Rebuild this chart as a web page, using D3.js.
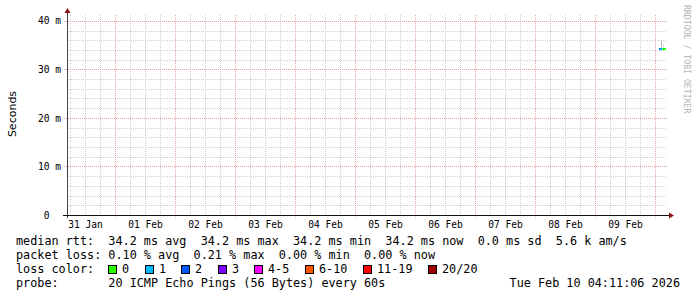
<!DOCTYPE html>
<html>
<head>
<meta charset="utf-8">
<script src="https://cdn.jsdelivr.net/npm/d3@7"></script>
<style>
  html, body { margin: 0; padding: 0; background: #fff; }
  svg text { white-space: pre; }
</style>
</head>
<body>
<div class="chart"></div>
<script>
// ---- data ----
const dayLabels = ["31 Jan", "01 Feb", "02 Feb", "03 Feb", "04 Feb", "05 Feb", "06 Feb", "07 Feb", "08 Feb", "09 Feb"];
const dayDates  = ["2026-01-31", "2026-02-01", "2026-02-02", "2026-02-03", "2026-02-04", "2026-02-05", "2026-02-06", "2026-02-07", "2026-02-08", "2026-02-09"];
const yTickValues = [0, 10, 20, 30, 40];
const yTickLabels = ["0  ", "10 m", "20 m", "30 m", "40 m"];

// samples (ms) at the right edge
const sampleTimes = ["2026-02-10T01:36:00Z", "2026-02-10T02:00:00Z", "2026-02-10T02:24:00Z", "2026-02-10T02:48:00Z",
                     "2026-02-10T03:12:00Z", "2026-02-10T03:36:00Z", "2026-02-10T04:00:00Z", "2026-02-10T04:24:00Z"];
const medianRtt = [34.2, 34.2, 34.2, 34.2, 34.2, 34.2, 34.2];
const smokeMin  = [34.2, 34.2, 34.0, 34.2, 34.1, 34.2, 34.2];
const smokeMax  = [34.2, 34.2, 36.0, 34.2, 35.2, 34.2, 34.2];
const lossCount = [2, 1, 1, 0, 0, 0, 0];

const lossLabels = ["0", "1", "2", "3", "4-5", "6-10", "11-19", "20/20"];
const lossColors = ["#26ff00", "#00b8ff", "#0059ff", "#7e00ff", "#ff00ff", "#ff5500", "#ff0000", "#a10000"];

const legendRows = [
  "median rtt:  34.2 ms avg  34.2 ms max  34.2 ms min  34.2 ms now  0.0 ms sd  5.6 k am/s",
  "packet loss: 0.10 % avg  0.21 % max  0.00 % min  0.00 % now",
  "loss color:",
  "probe:       20 ICMP Echo Pings (56 Bytes) every 60s"
];
const stampText = "Tue Feb 10 04:11:06 2026";
const yTitle = "Seconds";
const watermark = "RRDTOOL / TOBI OETIKER";

// ---- layout ----
const W = 697, H = 297;
const margin = { left: 67, right: 30, top: 15, bottom: 82 };
const mono = "'DejaVu Sans Mono', monospace";

const svg = d3.select(".chart").append("svg")
  .attr("width", W).attr("height", H)
  .style("display", "block");

const xScale = d3.scaleUtc()
  .domain([new Date("2026-01-31T04:48:00Z"), new Date("2026-02-10T04:48:00Z")])
  .range([margin.left, W - margin.right]);
const yScale = d3.scaleLinear()
  .domain([0, 41.2])
  .range([H - margin.bottom, margin.top]);

const px = v => Math.round(v) + 0.5;
const [xa, xb] = xScale.range();
const [yb, yt] = yScale.range();

// grid
const grid = svg.append("g").attr("shape-rendering", "crispEdges");
const majorDays = d3.utcDay.range(xScale.domain()[0], xScale.domain()[1]);
const minorHours = d3.utcHour.every(6).range(xScale.domain()[0], xScale.domain()[1])
  .filter(d => d.getUTCHours() !== 0);

grid.selectAll(".vmin").data(minorHours).enter().append("line")
  .attr("x1", d => px(xScale(d))).attr("x2", d => px(xScale(d)))
  .attr("y1", yt).attr("y2", yb)
  .attr("stroke", "#cfcfcf").attr("stroke-dasharray", "1,1");

const yMinor = d3.range(2, 41.2, 2).filter(v => v % 10 !== 0);
grid.selectAll(".hmin").data(yMinor).enter().append("line")
  .attr("x1", xa).attr("x2", xb)
  .attr("y1", d => px(yScale(d))).attr("y2", d => px(yScale(d)))
  .attr("stroke", "#cfcfcf").attr("stroke-dasharray", "1,1");

grid.selectAll(".vmaj").data(majorDays).enter().append("line")
  .attr("x1", d => px(xScale(d))).attr("x2", d => px(xScale(d)))
  .attr("y1", yt).attr("y2", yb + 3)
  .attr("stroke", "#e0a4a4").attr("stroke-dasharray", "1,1");

grid.selectAll(".hmaj").data(yTickValues.filter(v => v > 0)).enter().append("line")
  .attr("x1", xa - 3).attr("x2", xb)
  .attr("y1", d => px(yScale(d))).attr("y2", d => px(yScale(d)))
  .attr("stroke", "#e0a4a4").attr("stroke-dasharray", "1,1");

// smoke
const seg = sampleTimes.slice(0, -1).map((t, i) => ({
  t0: new Date(t), t1: new Date(sampleTimes[i + 1]),
  med: medianRtt[i], lo: smokeMin[i], hi: smokeMax[i], loss: lossCount[i]
}));
const lossColor = n => n >= 20 ? lossColors[7] : n >= 11 ? lossColors[6] : n >= 6 ? lossColors[5]
  : n >= 4 ? lossColors[4] : lossColors[n];

svg.append("g").attr("shape-rendering", "crispEdges")
  .selectAll("rect").data(seg.filter(d => d.hi > d.lo)).enter().append("rect")
  .attr("x", d => xScale(d.t0))
  .attr("width", d => xScale(d.t1) - xScale(d.t0))
  .attr("y", d => yScale(d.hi))
  .attr("height", d => yScale(d.lo) - yScale(d.hi))
  .attr("fill", d => d.hi - d.lo > 1.5 ? "#b8b8b8" : "#dcdcdc");

// median line coloured by loss
svg.append("g").attr("shape-rendering", "crispEdges")
  .selectAll("rect").data(seg).enter().append("rect")
  .attr("x", d => xScale(d.t0))
  .attr("width", d => xScale(d.t1) - xScale(d.t0))
  .attr("y", d => Math.round(yScale(d.med)) - 1)
  .attr("height", 2)
  .attr("fill", d => lossColor(d.loss));

// axes lines + arrows
const axisG = svg.append("g");
axisG.append("line")
  .attr("x1", px(xa)).attr("x2", px(xa)).attr("y1", yb + 3).attr("y2", yt - 3)
  .attr("stroke", "#404040").attr("shape-rendering", "crispEdges");
axisG.append("line")
  .attr("x1", xa - 4).attr("x2", xb + 3).attr("y1", px(yb)).attr("y2", px(yb))
  .attr("stroke", "#101010").attr("shape-rendering", "crispEdges");
axisG.append("path")
  .attr("d", `M${px(xa) - 3},${yt - 2} L${px(xa) + 3},${yt - 2} L${px(xa)},${yt - 7} Z`)
  .attr("fill", "#8b1414");
axisG.append("path")
  .attr("d", `M${xb + 2},${px(yb) - 3} L${xb + 2},${px(yb) + 3} L${xb + 7},${px(yb)} Z`)
  .attr("fill", "#8b1414");

// y tick labels via axis
const yAxis = d3.axisLeft(yScale)
  .tickValues(yTickValues)
  .tickSize(0)
  .tickPadding(0)
  .tickFormat((d, i) => yTickLabels[i]);
const yg = svg.append("g").attr("transform", `translate(${xa - 6},0)`).call(yAxis);
yg.select(".domain").remove();
yg.selectAll("text")
  .attr("font-family", mono).attr("font-size", "9.6px").attr("fill", "#000")
  .attr("dy", "0.33em");

// x tick labels at noon of each day
const noon = dayDates.map(d => d3.utcHour.offset(new Date(d + "T00:00:00Z"), 12));
const xAxis = d3.axisBottom(xScale)
  .tickValues(noon)
  .tickSize(0)
  .tickPadding(0)
  .tickFormat((d, i) => dayLabels[i]);
const xg = svg.append("g").attr("transform", `translate(0,${yb + 4})`).call(xAxis);
xg.select(".domain").remove();
xg.selectAll("text")
  .attr("font-family", mono).attr("font-size", "9.6px").attr("fill", "#000")
  .attr("dy", "0.95em");

// axis title
svg.append("text")
  .attr("transform", `translate(16,114) rotate(-90)`)
  .attr("text-anchor", "middle")
  .attr("font-family", "'DejaVu Sans', sans-serif").attr("font-size", "11px")
  .attr("fill", "#000")
  .text(yTitle);

// watermark
svg.append("text")
  .attr("transform", `translate(684,5) rotate(90)`)
  .attr("font-family", mono).attr("font-size", "8.2px")
  .attr("fill", "#b4b4b4")
  .text(watermark);

// legend
const rowY = [245, 259, 273, 287];
const charW = 7.1;
svg.append("g").selectAll("text").data(legendRows).enter().append("text")
  .attr("x", 16).attr("y", (d, i) => rowY[i])
  .attr("font-family", mono).attr("font-size", "11.8px").attr("fill", "#000")
  .text(d => d);

svg.append("text")
  .attr("x", 680).attr("y", rowY[3]).attr("text-anchor", "end")
  .attr("font-family", mono).attr("font-size", "11.8px").attr("fill", "#000")
  .text(stampText);

let lx = 108;
const lossItems = lossLabels.map((l, i) => {
  const item = { label: l, color: lossColors[i], x: lx };
  lx += 14 + l.length * charW + 15.5;
  return item;
});
const lg = svg.append("g");
lg.selectAll("rect").data(lossItems).enter().append("rect")
  .attr("x", d => Math.round(d.x) + 0.5).attr("y", 265.5)
  .attr("width", 8).attr("height", 8)
  .attr("fill", d => d.color).attr("stroke", "#000").attr("shape-rendering", "crispEdges");
lg.selectAll("text").data(lossItems).enter().append("text")
  .attr("x", d => Math.round(d.x) + 14).attr("y", rowY[2])
  .attr("font-family", mono).attr("font-size", "11.8px").attr("fill", "#000")
  .text(d => d.label);
</script>
</body>
</html>
